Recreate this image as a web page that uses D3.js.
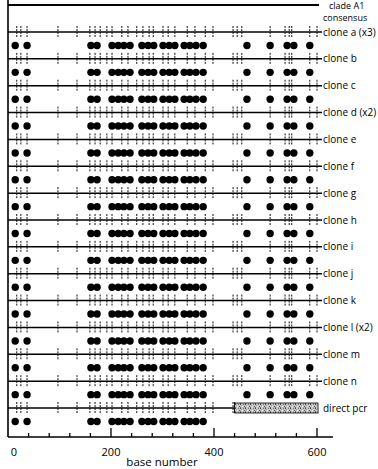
<!DOCTYPE html>
<html>
<head>
<meta charset="utf-8">
<script src="https://cdn.jsdelivr.net/npm/d3@7"></script>
<style>
  body { margin: 0; background: #fff; }
  svg { display: block; font-family: "Open Sans", "Noto Sans", sans-serif; }
</style>
</head>
<body>
<script>
// rows, top to bottom
const clones = ["clone a (x3)", "clone b", "clone c", "clone d (x2)", "clone e", "clone f",
  "clone g", "clone h", "clone i", "clone j", "clone k", "clone l (x2)", "clone m", "clone n",
  "direct pcr"];

// variable sites drawn as small ticks on each sequence (base number)
const sites = [17, 25, 37, 97, 134, 159, 169, 179, 192, 202, 221, 233, 250, 262, 274, 282,
  301, 311, 324, 348, 363, 383, 398, 437, 445, 454, 509, 538, 546, 551, 586];

// sites that differ from the consensus (dots under each clone)
const diffSites = [14, 37, 161, 173, 202, 214, 225, 237, 260, 272, 283, 301, 313, 324,
  342, 353, 365, 379, 464, 509, 542, 555, 586];

// direct pcr: unreadable stretch
const pcrGap = [440, 602];

const xTicks = [40, 80, 120, 160, 200, 240, 280, 320, 360, 400, 440, 480, 520, 560, 600];
const xLabels = [0, 200, 400, 600];

const w = 378;
const h = 469;

const x = d3.scaleLinear().domain([0, 600]).range([8, 317]);
const y = d3.scalePoint().domain(clones).range([32, 408]);
const consensusY = 5;
const axisY = 437;

const svg = d3.select("body").append("svg").attr("width", w).attr("height", h);

// stipple texture for the direct pcr box
const defs = svg.append("defs");
const pat = defs.append("pattern")
  .attr("id", "stipple")
  .attr("patternUnits", "userSpaceOnUse")
  .attr("width", 5).attr("height", 4);
pat.append("rect").attr("width", 5).attr("height", 4).attr("fill", "#c8c8c8");
[[0, 0, "#444"], [3, 0, "#777"], [1, 1, "#999"], [4, 2, "#555"], [2, 2, "#eee"], [0, 3, "#666"], [3, 3, "#aaa"]]
  .forEach(p => pat.append("rect").attr("x", p[0]).attr("y", p[1]).attr("width", 1).attr("height", 1).attr("fill", p[2]));

// left frame line
svg.append("line")
  .attr("x1", x(0)).attr("x2", x(0))
  .attr("y1", 0).attr("y2", axisY)
  .attr("stroke", "#000").attr("stroke-width", 1.6);

// consensus
svg.append("line")
  .attr("x1", x(0)).attr("x2", 319)
  .attr("y1", consensusY).attr("y2", consensusY)
  .attr("stroke", "#000").attr("stroke-width", 1.8);
svg.append("text").attr("x", 329).attr("y", 9).attr("font-size", 9).text("clade A1");
svg.append("text").attr("x", 323).attr("y", 21).attr("font-size", 9).text("consensus");

// each clone row
const row = svg.selectAll("g.row")
  .data(clones)
  .enter()
  .append("g")
  .attr("class", "row")
  .attr("transform", d => "translate(0," + y(d) + ")");

row.append("line")
  .attr("x1", x(0))
  .attr("x2", d => d === "direct pcr" ? x(pcrGap[0]) : 322)
  .attr("y1", 0).attr("y2", 0)
  .attr("stroke", "#000").attr("stroke-width", 1.5);

row.selectAll("line.site")
  .data(d => sites.filter(s => d !== "direct pcr" || s < pcrGap[0]).concat(d === "direct pcr" ? [pcrGap[0]] : [600]))
  .enter()
  .append("line")
  .attr("class", "site")
  .attr("x1", d => x(d)).attr("x2", d => x(d))
  .attr("y1", -6).attr("y2", 5)
  .attr("stroke", "#111").attr("stroke-width", 1)
  .attr("stroke-dasharray", "2,1");

row.selectAll("circle")
  .data(d => diffSites.filter(s => d !== "direct pcr" || s < pcrGap[0]))
  .enter()
  .append("circle")
  .attr("cx", d => x(d))
  .attr("cy", 13.5)
  .attr("r", 3.7)
  .attr("fill", "#000");

row.append("text")
  .attr("x", 323)
  .attr("y", 0)
  .attr("dy", "0.35em")
  .attr("font-size", 10)
  .text(d => d);

// stippled box for the unreadable part of the direct pcr
svg.append("rect")
  .attr("x", x(pcrGap[0]))
  .attr("y", y("direct pcr") - 5)
  .attr("width", x(pcrGap[1]) - x(pcrGap[0]))
  .attr("height", 10)
  .attr("fill", "url(#stipple)")
  .attr("stroke", "#000").attr("stroke-width", 0.8);

// x axis
svg.append("line")
  .attr("x1", x(0)).attr("x2", 333)
  .attr("y1", axisY).attr("y2", axisY)
  .attr("stroke", "#000").attr("stroke-width", 1.6);

svg.selectAll("line.tick")
  .data(xTicks)
  .enter()
  .append("line")
  .attr("class", "tick")
  .attr("x1", d => x(d)).attr("x2", d => x(d))
  .attr("y1", axisY)
  .attr("y2", d => d % 200 === 0 ? axisY - 9 : axisY - 4)
  .attr("stroke", "#000").attr("stroke-width", 1.3);

svg.selectAll("text.xlab")
  .data(xLabels)
  .enter()
  .append("text")
  .attr("class", "xlab")
  .attr("x", d => d === 0 ? x(d) + 6 : x(d))
  .attr("y", 456)
  .attr("text-anchor", "middle")
  .attr("font-size", 11)
  .text(d => d);

svg.append("text")
  .attr("x", 162).attr("y", 466)
  .attr("text-anchor", "middle")
  .attr("font-size", 11.5)
  .text("base number");
</script>
</body>
</html>
